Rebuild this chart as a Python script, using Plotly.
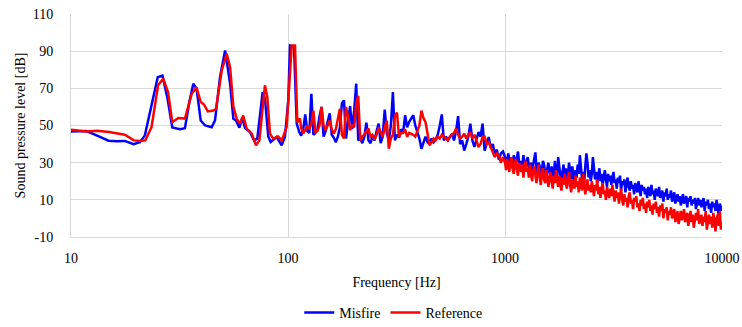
import numpy as np
import plotly.graph_objects as go

# ---- Low-frequency part (explicit readings) ----
misfire_low_freq = [10, 11.8, 13.2, 14.9, 16.3, 17.7, 19.4, 20.8, 21.9, 23.4, 25.1, 26.4, 27.8, 29.3,
                    31.8, 33.5, 35.1, 36.6, 37.9, 39.6, 41.5, 44.5, 46.1, 48.6, 51.3, 54.1, 56.0,
                    57.6, 59.7, 61.5, 63.4, 66.8, 69.7, 72.2, 76.4, 78.3, 81.1, 83.2, 88.7, 93.5,
                    96.8, 100.3, 102.1, 106.6, 109.7, 112.7]
misfire_low_db = [46.8, 47.0, 44.5, 41.8, 41.5, 41.7, 40.0, 41.0, 44.7, 60.0, 76.0, 76.8, 65.0, 49.0,
                  48.0, 48.6, 62.6, 72.5, 69.8, 52.7, 50.0, 49.1, 52.7, 76.0, 90.4, 72.5, 53.6,
                  52.7, 48.8, 54.2, 48.6, 46.5, 42.0, 42.9, 68.0, 64.4, 44.1, 41.1, 43.8, 39.3,
                  43.8, 63.5, 93.0, 92.2, 51.0, 46.5]

reference_low_freq = [10, 11.8, 13.2, 15.0, 17.7, 19.5, 20.8, 22.0, 23.5, 25.2, 26.6, 28.0, 29.3,
                      31.2, 33.5, 36.0, 37.9, 39.6, 41.0, 42.7, 45.3, 46.6, 49.5, 52.2, 54.1, 56.0,
                      58.0, 60.1, 62.2, 64.5, 68.1, 71.2, 73.8, 78.3, 80.3, 82.6, 85.5, 90.2, 93.5,
                      98.6, 104.0, 107.7, 110.4, 113.6]
reference_low_db = [47.7, 46.8, 47.2, 46.5, 45.0, 42.0, 41.6, 42.0, 49.1, 71.6, 75.2, 68.0, 51.8,
                    54.0, 53.7, 67.1, 70.6, 62.6, 61.3, 57.6, 58.1, 59.0, 79.6, 88.6, 81.4, 60.2,
                    53.7, 51.0, 55.4, 48.3, 45.6, 39.3, 42.0, 71.6, 65.3, 45.6, 42.9, 44.1, 42.0,
                    49.1, 93.0, 93.0, 51.8, 53.7]

# ---- Mid part 115 Hz - 1 kHz (sample frequencies + read values) ----
mid_freq = np.geomspace(115, 1000, 100, endpoint=False)
misfire_mid_db = [44.5, 48, 56, 47, 46, 67, 45, 46, 48, 55,
                  60, 44, 47, 52, 56.5, 45, 43.5, 41, 44, 49,
                  62, 63.5, 43, 52, 60.5, 48, 58, 72.5, 42, 43,
                  40.5, 44, 51.5, 42, 40.5, 44, 42, 47, 51, 40.5,
                  44, 58.5, 46, 42, 50, 68, 42, 45, 43.5, 48,
                  46, 55.5, 49, 52, 53.5, 55.5, 50, 47, 43, 37.5,
                  41, 44, 41, 40, 43, 41, 42.5, 45, 50, 56,
                  42, 44, 42, 44, 45.5, 42, 47, 55, 40, 42,
                  36.5, 40, 44, 51, 42, 38.5, 42, 46.5, 44, 51,
                  36.5, 40, 43.8, 38, 40, 34.8, 37, 31.5, 35, 36]
reference_mid_db = [48.5, 45.6, 47.5, 50, 48, 51, 58, 46.5, 47, 50,
                    60, 50, 47.5, 50, 52.7, 48, 45.5, 48, 53, 59,
                    45, 43, 60, 55, 47.5, 50, 49, 62, 66, 42,
                    44, 45, 47, 48.3, 44, 45, 42.5, 45, 49, 46,
                    44, 49, 52.7, 37.5, 43, 45, 55, 57, 43.8, 46,
                    46, 48, 44, 46, 45.6, 45, 44, 47, 50, 58,
                    54, 51.8, 45.6, 39.5, 41, 43, 42, 44, 43, 45,
                    44, 43, 42, 44, 45, 46, 48.3, 45, 43, 44,
                    45.6, 43, 45, 46.5, 43, 45, 42, 38.4, 40, 43.8,
                    44, 40, 41, 38.4, 36, 33, 35, 34, 30, 33]

# ---- High part 1 kHz - 10 kHz ----
high_freq = np.geomspace(1000, 10000, 201)
misfire_high_db = [33, 29, 31, 35, 30, 28, 32, 27, 34, 31,
                   29, 33, 36, 30, 27, 31, 29, 34, 28, 26,
                   31, 33, 28, 25, 30, 23, 29, 32, 35.5, 27,
                   24, 30, 28, 21, 26, 31, 29, 23, 20, 27,
                   30, 25, 22, 28, 19, 24, 31, 26, 21, 33,
                   28, 23, 18, 25, 29, 22, 27, 17, 24, 30,
                   26, 21, 28, 23, 19, 26, 22, 29, 24, 34,
                   27, 21, 25, 19, 28, 35, 30, 22, 26, 20,
                   24, 33, 27, 21, 25, 19, 23, 27, 20, 24,
                   18, 22, 26, 21, 17, 24, 20, 23, 18, 22,
                   25, 19, 21, 16, 22, 19, 23, 15, 20, 18,
                   21, 14, 19, 22, 17, 15, 20, 16, 18, 13,
                   19, 17, 14, 20, 16, 12, 18, 15, 17, 13,
                   16, 11, 17, 14, 12, 18, 13, 15, 10, 16,
                   14, 12, 17, 11, 13, 15, 9, 14, 12, 16,
                   10, 13, 11, 15, 9, 12, 14, 8, 11, 13,
                   9, 12, 7, 11, 13, 8, 10, 12, 6, 11,
                   9, 12, 7, 10, 8, 11, 5, 9, 11, 7,
                   10, 6, 8, 11, 4, 9, 7, 10, 5, 8,
                   3, 9, 6, 8, 4, 10, 5, 2, 8, 6, 4]
reference_high_db = [30, 26, 32, 28, 25, 31, 33, 27, 24, 29,
                     32, 26, 23, 30, 27, 25, 29, 22, 28, 31,
                     25, 27, 22, 29, 24, 20, 26, 28, 23, 19,
                     25, 29, 22, 18, 24, 27, 21, 19, 26, 23,
                     17, 22, 25, 20, 16, 23, 19, 26, 21, 17,
                     23, 20, 15, 22, 18, 24, 19, 16, 21, 25,
                     18, 14, 21, 19, 16, 23, 17, 20, 14, 22,
                     18, 15, 24, 19, 13, 17, 21, 15, 18, 14,
                     20, 16, 12, 18, 15, 21, 13, 17, 11, 16,
                     19, 13, 15, 10, 17, 14, 11, 16, 12, 18,
                     13, 9, 15, 11, 14, 8, 12, 16, 10, 7,
                     13, 9, 11, 6, 12, 14, 8, 10, 5, 11,
                     9, 12, 6, 8, 4, 10, 7, 11, 5, 8,
                     3, 9, 6, 10, 4, 7, 2, 8, 5, 9,
                     3, 6, 1, 7, 4, 8, 0, 5, 3, 6,
                     -1, 4, 2, 6, 0, 3, 5, -2, 2, 4,
                     -3, 1, 4, -1, 2, 5, -2, 0, 3, -4,
                     1, 4, -2, 2, -5, 0, 3, -1, 5, -3,
                     0, 2, -4, 1, -2, 4, -6, 0, 2, -3,
                     1, -5, 3, -1, -7, 0, 2, -4, 4, -6, -2]

x_tick_vals = [10, 100, 1000, 10000]
x_tick_text = ["10", "100", "1000", "10000"]
y_tick_vals = [-10, 10, 30, 50, 70, 90, 110]
y_tick_text = ["-10", "10", "30", "50", "70", "90", "110"]

misfire_x = list(misfire_low_freq) + list(mid_freq) + list(high_freq)
misfire_y = misfire_low_db + misfire_mid_db + misfire_high_db
reference_x = list(reference_low_freq) + list(mid_freq) + list(high_freq)
reference_y = reference_low_db + reference_mid_db + reference_high_db

FONT = "Liberation Serif, DejaVu Serif, Times New Roman, serif"
GRID = "#d9d9d9"

fig = go.Figure()
fig.add_trace(go.Scatter(x=misfire_x, y=misfire_y, mode="lines", name="Misfire",
                         line=dict(color="#0000ff", width=2.5)))
fig.add_trace(go.Scatter(x=reference_x, y=reference_y, mode="lines", name="Reference",
                         line=dict(color="#ff0000", width=2.5)))

fig.update_layout(
    width=742, height=327,
    margin=dict(l=71, r=20, t=14, b=90, autoexpand=False),
    paper_bgcolor="white", plot_bgcolor="white",
    font=dict(family=FONT, size=14, color="#000000"),
    showlegend=True,
    legend=dict(orientation="h", x=0.53, xanchor="center", xref="container",
                y=0.043, yanchor="middle", yref="container",
                font=dict(family=FONT, size=14), itemwidth=30, tracegroupgap=0),
    xaxis=dict(type="log", range=[1, 4], tickvals=x_tick_vals, ticktext=x_tick_text,
               showgrid=True, gridcolor=GRID, gridwidth=1,
               showline=True, linecolor=GRID, linewidth=1, mirror=False,
               ticks="", ticklabelstandoff=8, zeroline=False, automargin=False,
               tickfont=dict(family=FONT, size=14),
               title=dict(text="Frequency [Hz]", standoff=12, font=dict(family=FONT, size=14))),
    yaxis=dict(range=[-10, 110], tickvals=y_tick_vals, ticktext=y_tick_text,
               showgrid=True, gridcolor=GRID, gridwidth=1,
               showline=True, linecolor=GRID, linewidth=1,
               ticks="", ticklabelstandoff=14, zeroline=False, automargin=False,
               tickfont=dict(family=FONT, size=14),
               title=dict(text="Sound pressure level [dB]", standoff=3, font=dict(family=FONT, size=14))),
)

fig.write_html("out.html", config={"displayModeBar": False},
               post_script="document.body.style.margin='0px';")
